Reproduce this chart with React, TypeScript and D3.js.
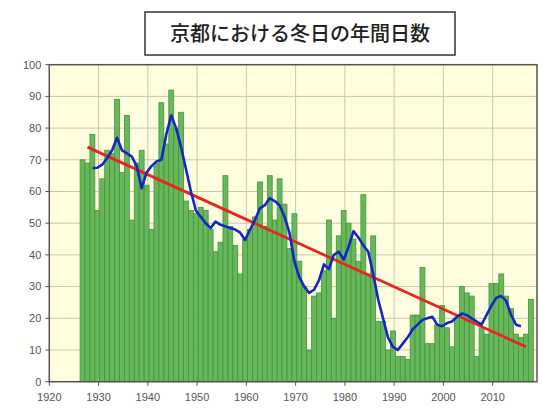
import React from "react";
import * as d3 from "d3";

const startYear = 1927;
const winterDays = [
  70, 69, 78, 54, 64, 73, 72, 89, 66, 84,
  51, 69, 73, 62, 48, 69, 88, 75, 92, 80,
  85, 57, 54, 53, 55, 54, 48, 41, 44, 65,
  49, 43, 34, 45, 48, 52, 63, 49, 65, 51,
  64, 56, 42, 53, 38, 30, 10, 27, 28, 35,
  51, 20, 46, 54, 50, 45, 38, 59, 34, 46,
  19, 19, 10, 16, 8, 8, 7, 21, 21, 36,
  12, 12, 18, 24, 17, 11, 20, 30, 28, 27,
  8, 17, 15, 31, 31, 34, 27, 23, 15, 14,
  15, 26,
];

const maStartYear = 1929;
const movingAvg = [
  67.4, 67.5, 68.5, 70.5, 73, 77, 73, 72, 71, 68, 61,
  66, 68, 69.5, 70, 78, 84, 80, 74, 67, 60,
  54, 52, 50, 48.5, 50.5, 49.5, 49, 48.5, 48, 47,
  44.7, 48, 51, 54.7, 55.7, 57.9, 57, 55.7, 52, 47,
  38, 33, 30, 28, 29, 32, 37, 35.5, 40, 41,
  38.5, 42.5, 47.5, 45.5, 43, 41, 34, 26, 20, 14,
  11, 10, 12, 14, 16.5, 18, 19.5, 20, 20.5, 18,
  17.5, 18.5, 19, 20.5, 21.5, 21, 20, 19, 18, 21,
  24, 26.5, 27, 25.5, 21, 18, 17.5,
];

const trendYears = [1928, 2017];
const trendValues = [74, 11];

const xTicks = [1920, 1930, 1940, 1950, 1960, 1970, 1980, 1990, 2000, 2010];
const yTicks = [0, 10, 20, 30, 40, 50, 60, 70, 80, 90, 100];
const title = "京都における冬日の年間日数";

export default function App() {
  const W = 542;
  const H = 416;
  const left = 49.3;
  const right = 537;
  const top = 64.7;
  const bottom = 381.7;
  const x = d3.scaleLinear().domain([1920, 2019]).range([left, right]);
  const y = d3.scaleLinear().domain([0, 100]).range([bottom, top]);
  const bw = x(1921) - x(1920);
  const off = -0.25;

  const bars = winterDays.map((v, i) => ({ year: startYear + i, v }));
  const ma = movingAvg.map((v, i) => ({ year: maStartYear + i, v }));
  const line = d3
    .line<{ year: number; v: number }>()
    .x((d) => x(d.year + off))
    .y((d) => y(d.v))
    .curve(d3.curveLinear);

  const font = "Arial, 'Liberation Sans', sans-serif";

  return (
    <svg
      width={W}
      height={H}
      style={{ position: "absolute", left: 0, top: 0, background: "#fff" }}
    >
      <rect x={left} y={top} width={right - left} height={bottom - top} fill="#ffffe0" />
      {yTicks.map((t) => (
        <line key={"gy" + t} x1={left} x2={right} y1={y(t)} y2={y(t)} stroke="#c9c9a6" strokeWidth={1} />
      ))}
      {xTicks.map((t) => (
        <line key={"gx" + t} x1={x(t)} x2={x(t)} y1={top} y2={bottom} stroke="#c9c9a6" strokeWidth={1} />
      ))}
      {bars.map((d) => (
        <rect
          key={d.year}
          x={x(d.year + off) - bw / 2}
          y={y(d.v)}
          width={bw}
          height={y(0) - y(d.v)}
          fill="#66b85a"
          stroke="#44933f"
          strokeWidth={0.8}
        />
      ))}
      <line
        x1={x(trendYears[0] + off)}
        y1={y(trendValues[0])}
        x2={x(trendYears[1] + off)}
        y2={y(trendValues[1])}
        stroke="#e8261c"
        strokeWidth={2.8}
      />
      <path d={line(ma) || ""} fill="none" stroke="#1426c8" strokeWidth={2.6} strokeLinejoin="round" />
      <rect x={left} y={top} width={right - left} height={bottom - top} fill="none" stroke="#555" strokeWidth={1.5} />
      {yTicks.map((t) => (
        <g key={"yt" + t}>
          <line x1={left - 4} x2={left} y1={y(t)} y2={y(t)} stroke="#555" />
          <text x={left - 8} y={y(t)} dy="0.35em" textAnchor="end" fontSize={11} fill="#555" fontFamily={font}>
            {t}
          </text>
        </g>
      ))}
      {xTicks.map((t) => (
        <g key={"xt" + t}>
          <line x1={x(t)} x2={x(t)} y1={bottom} y2={bottom + 4} stroke="#555" />
          <text x={x(t)} y={bottom + 15} dy="0.35em" textAnchor="middle" fontSize={11} fill="#555" fontFamily={font}>
            {t}
          </text>
        </g>
      ))}
      <rect x={145} y={12} width={310} height={43} fill="#fff" stroke="#333" strokeWidth={1.5} />
      <text
        x={300}
        y={34}
        dy="0.35em"
        textAnchor="middle"
        fontSize={20}
        fontWeight={500}
        fill="#222"
        fontFamily="'Noto Sans CJK JP', sans-serif"
      >
        {title}
      </text>
    </svg>
  );
}
